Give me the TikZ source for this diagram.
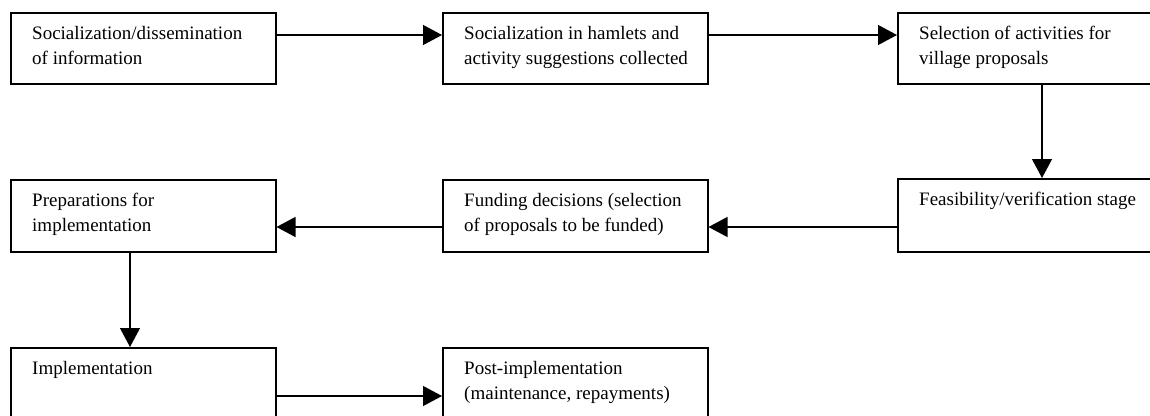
\documentclass[tikz,border=0pt]{standalone}
\usepackage{fontspec}
\setmainfont{Liberation Serif}
\usetikzlibrary{arrows.meta,calc}
\begin{document}
\begin{tikzpicture}[x=1pt,y=-1pt,
  box/.style={draw,line width=1.5pt,minimum width=265pt,minimum height=71pt,inner sep=0pt,anchor=north west},
  txt/.style={anchor=north west,inner sep=0pt,align=left,font=\fontsize{19}{25}\selectfont},
  arr/.style={line width=1.2pt,-{Triangle[length=19pt,width=20pt]}}]
\useasboundingbox (0,0) rectangle (1150,415);
\fill[white] (0,0) rectangle (1150,415);
\clip (0,0) rectangle (1150,415);
% boxes
\node[box] (b1) at (10,12) {};
\node[box] (b2) at (442,12) {};
\node[box] (b3) at (897,12) {};
\node[box,minimum height=73pt] (b4) at (897,178) {};
\node[box,minimum height=72pt] (b5) at (442,179) {};
\node[box,minimum height=72pt] (b6) at (10,179) {};
\node[box] (b7) at (10,347) {};
\node[box] (b8) at (442,347) {};
% texts
\node[txt] (t1) at ($(b1.north west)+(22,14)$) {Socialization/dissemination\\of information};
\node[txt] (t2) at ($(b2.north west)+(22,14)$) {Socialization in hamlets and\\activity suggestions collected};
\node[txt] (t3) at ($(b3.north west)+(22,14)$) {Selection of activities for\\village proposals};
\node[txt] (t4) at ($(b4.north west)+(22,14)$) {Feasibility/verification stage};
\node[txt] (t5) at ($(b5.north west)+(22,14)$) {Funding decisions (selection\\of proposals to be funded)};
\node[txt] (t6) at ($(b6.north west)+(22,14)$) {Preparations for\\implementation};
\node[txt] (t7) at ($(b7.north west)+(22,14)$) {Implementation};
\node[txt] (t8) at ($(b8.north west)+(22,14)$) {Post-implementation\\(maintenance, repayments)};
% arrows
\draw[arr] ($(b1.north east)+(0,23)$) -- ($(b2.north west)+(0,23)$);
\draw[arr] ($(b2.north east)+(0,23)$) -- ($(b3.north west)+(0,23)$);
\draw[arr] ($(b3.south west)+(145,0)$) -- ($(b4.north west)+(145,0)$);
\draw[arr] ($(b4.north west)+(0,49)$) -- ($(b5.north east)+(0,48)$);
\draw[arr] ($(b5.north west)+(0,48)$) -- ($(b6.north east)+(0,48)$);
\draw[arr] ($(b6.south west)+(120,0)$) -- ($(b7.north west)+(120,0)$);
\draw[arr] ($(b7.north east)+(0,49)$) -- ($(b8.north west)+(0,49)$);
\end{tikzpicture}
\end{document}
